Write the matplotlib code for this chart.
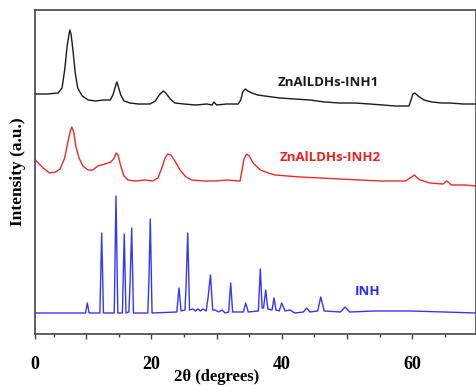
import numpy as np
import matplotlib
matplotlib.use("Agg")
import matplotlib.pyplot as plt

# 2theta (degrees) / intensity (a.u.)
inh1_x = [2.2, 4.0, 5.7, 6.3, 6.7, 7.1, 7.4, 7.5, 7.7, 8.0, 8.3, 8.7, 9.4, 10.3, 11.5,
          12.6, 13.7, 14.1, 14.5, 14.7, 14.9, 15.3, 15.8, 16.7, 18.0, 19.8, 20.6,
          21.2, 21.8, 22.2, 22.9, 23.6, 25.0, 26.8, 28.5, 29.3, 29.6, 30.0, 31.5,
          33.3, 33.7, 34.0, 34.4, 34.8, 35.4, 36.3, 37.4, 39.7, 42.0, 44.3, 46.6,
          48.9, 51.2, 53.5, 55.5, 57.4, 59.5, 59.8, 60.1, 60.4, 60.9, 61.8, 63.0,
          64.5, 65.8, 67.8, 69.8]
inh1_y = [240, 240, 241, 246, 264, 289, 301, 304, 299, 282, 262, 246, 238, 234, 233,
          234, 234, 239, 248, 252, 248, 239, 233, 231, 230, 230, 233,
          239, 243, 241, 235, 231, 230, 229, 230, 229, 232, 229, 230,
          230, 234, 242, 245, 243, 241, 239, 238, 236, 235, 234, 232,
          231, 231, 230, 229, 228, 228, 234, 240, 241, 238, 234, 232,
          231, 231, 230, 230]

inh2_x = [2.2, 3.4, 4.4, 5.3, 6.0, 6.7, 7.2, 7.6, 7.8, 8.1, 8.4, 8.9, 9.5, 10.3, 11.0,
          11.8, 12.9, 13.8, 14.3, 14.6, 14.9, 15.3, 15.8, 16.4, 17.5, 19.0, 20.2,
          21.0, 21.6, 22.1, 22.5, 23.0, 23.6, 24.4, 25.3, 26.2, 28.0, 29.8, 31.6,
          33.6, 33.9, 34.2, 34.6, 35.0, 35.6, 36.7, 37.9, 39.0, 40.9, 42.8, 45.9,
          48.9, 52.0, 55.1, 58.9, 59.7, 60.3, 60.8, 61.2, 62.7, 64.7, 65.3, 66.0,
          68.0, 69.8]
inh2_y = [174, 166, 161, 162, 165, 176, 192, 204, 207, 202, 188, 176, 168, 164, 164,
          168, 170, 172, 176, 181, 179, 168, 158, 154, 153, 154, 153,
          156, 166, 176, 180, 179, 173, 164, 157, 154, 153, 153, 154,
          153, 164, 175, 180, 178, 171, 164, 161, 159, 158, 157, 156,
          155, 154, 153, 153, 156, 159, 156, 154, 151, 150, 153, 149,
          149, 148]

inh_x = [2.2, 9.9, 10.17, 10.45, 12.1, 12.38, 12.65, 14.3, 14.57, 14.85, 15.55, 15.84,
         16.1, 16.55, 16.72, 16.98, 17.25, 19.45, 19.63, 19.83, 20.1, 23.9, 24.23,
         24.55, 25.15, 25.31, 25.57, 25.85, 26.38, 26.75, 27.15, 27.5, 27.91, 28.4,
         28.68, 29.06, 29.4, 29.75, 30.3, 30.83, 31.3, 31.85, 32.16, 32.45, 34.1,
         34.46, 34.85, 36.4, 36.7, 36.98, 37.2, 37.53, 37.85, 38.5, 38.8, 39.1, 39.6,
         39.98, 40.5, 41.26, 42.0, 43.3, 43.82, 44.3, 45.5, 45.97, 46.5, 49.0, 49.69,
         50.4, 54.3, 59.8, 69.8]
inh_y = [21, 21, 31, 21, 21, 101, 21, 21, 138, 21, 21, 100,
         21, 22, 49, 106, 21, 21, 56, 115, 21, 22, 46,
         23, 24, 47, 101, 24, 25, 23, 25, 23, 25, 23,
         36, 59, 24, 24, 22, 24, 21, 22, 51, 22, 22,
         31, 22, 23, 65, 26, 26, 44, 25, 24, 36, 24, 23,
         31, 23, 24, 21, 22, 26, 22, 23, 37, 23, 22, 27,
         22, 23, 23, 21]

fig = plt.figure(figsize=(4.76, 3.85), dpi=100)
ax = fig.add_axes([0.0735, 0.1325, 0.9255, 0.8415])

ax.plot(inh1_x, inh1_y, color='#1a1a1a', lw=1.0)
ax.plot(inh2_x, inh2_y, color='#f02828', lw=1.0)
ax.plot(inh_x, inh_y, color='#3535ff', lw=1.0)

lbl = dict(fontsize=9.5, fontweight='bold', family='Open Sans', ha='left', va='center')
ax.text(39.4, 252, 'ZnAlLDHs-INH1', color='#1a1a1a', **lbl)
ax.text(39.7, 176, 'ZnAlLDHs-INH2', color='#f02020', **lbl)
ax.text(51.2, 42, 'INH', color='#2a2aff', **lbl)

ax.set_xlim(2.15, 69.7)
ax.set_ylim(0, 324)
ax.set_yticks([])

ax.set_xticks([2.15, 10, 20, 30, 40, 50, 60])
ax.set_xticklabels(['0', '', '20', '', '40', '', '60'])
ax.set_xticks(np.arange(5, 70, 10), minor=True)
ax.tick_params(axis='x', which='major', length=3.5, width=1, pad=12,
               labelsize=13, color='#444444')
ax.tick_params(axis='x', which='minor', length=2, width=1, color='#444444')
for t in ax.get_xticklabels():
    t.set_family('Liberation Serif')
    t.set_fontweight('bold')

for s in ax.spines.values():
    s.set_color('#444444')
    s.set_linewidth(1.2)

ax.set_xlabel('2θ (degrees)', family='Liberation Serif', fontweight='bold', fontsize=12)
ax.xaxis.set_label_coords(0.413, -0.108)
ax.set_ylabel('Intensity (a.u.)', family='Liberation Serif', fontweight='bold', fontsize=12.5)
ax.yaxis.set_label_coords(-0.02, 0.5)

fig.savefig('out.png', dpi=100)
